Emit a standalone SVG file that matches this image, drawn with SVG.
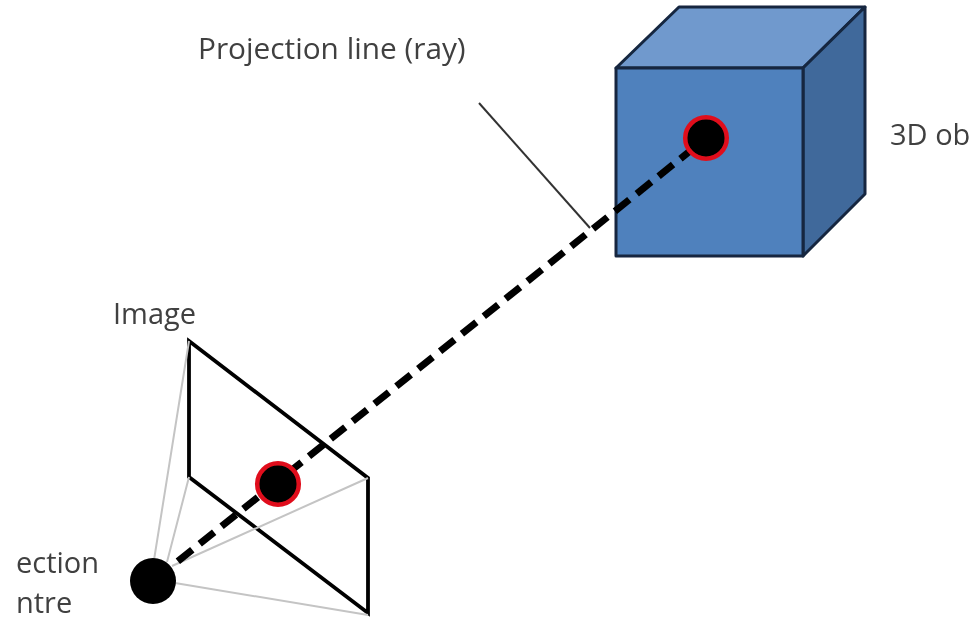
<svg xmlns="http://www.w3.org/2000/svg" width="975" height="620" viewBox="0 0 975 620">
<defs>
<style>
.t{font-family:"Open Sans","Noto Sans","DejaVu Sans",sans-serif;font-size:29px;fill:#404040}
.dot{fill:#000;stroke:#e0101c;stroke-width:4.5}
.edge{stroke:#14273f;stroke-width:3;stroke-linejoin:round}
.plane{fill:none;stroke:#000;stroke-width:3.8;stroke-linejoin:miter}
.proj{stroke:#c4c4c4;stroke-width:2;fill:none}
</style>
<filter id="soft" x="-5%" y="-5%" width="110%" height="110%"><feGaussianBlur stdDeviation="0.7"/></filter>
</defs>
<rect width="975" height="620" fill="#fff"/>
<g filter="url(#soft)">
<g id="cube">
<polygon class="edge" points="616,68 679,7 865,7 803,68" fill="#7099cd"/>
<polygon class="edge" points="803,68 865,7 865,194 803,256" fill="#41699b"/>
<rect class="edge" x="616" y="68" width="187" height="188" fill="#4f81bd"/>
</g>
<g id="image-plane">
<polygon class="plane" points="189,341 368,478 368,613 189,477"/>
</g>
<g id="connectors">
<path class="proj" d="M154,560 189,341M167,562 189,477M172,566 368,478M175,583 368,615"/>
<line x1="479" y1="103" x2="590" y2="228" stroke="#333" stroke-width="2"/>
<line x1="172" y1="566" x2="700" y2="143" stroke="#000" stroke-width="7" stroke-dasharray="18.5 9.5" stroke-dashoffset="-7.5"/>
</g>
<g id="object-point"><circle class="dot" cx="706" cy="138" r="20.8"/></g>
<g id="image-point"><circle class="dot" cx="278" cy="484" r="20.8"/></g>
<g id="projection-centre"><circle cx="153" cy="581" r="23" fill="#000"/></g>
<g id="labels">
<text class="t" x="198" y="59" style="font-size:29.8px">Projection line (ray)</text>
<text class="t" x="890" y="145">3D ob</text>
<text class="t" x="113" y="324">Image</text>
<text class="t" x="16" y="573">ection</text>
<text class="t" x="16" y="613">ntre</text>
</g>
</g>
</svg>
